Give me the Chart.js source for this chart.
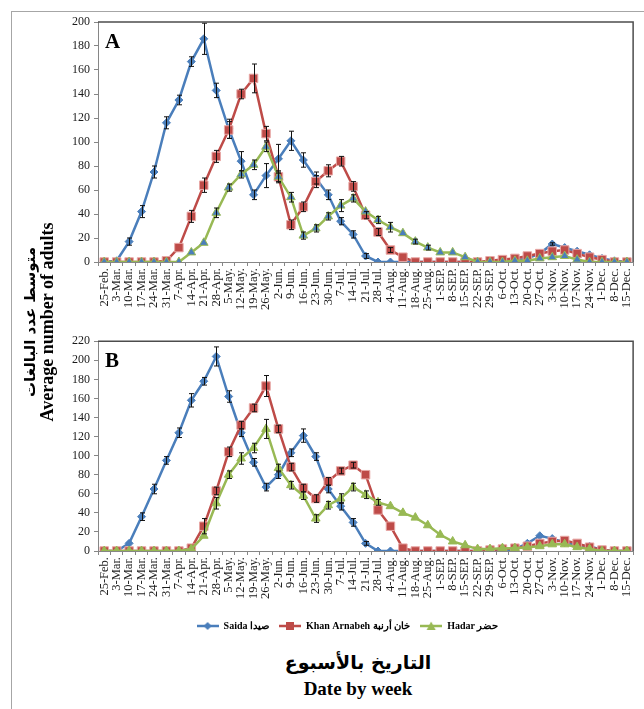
<!DOCTYPE html>
<html><head><meta charset="utf-8">
<script src="https://cdn.jsdelivr.net/npm/chart.js@4.4.0/dist/chart.umd.min.js"></script>
<style>
html,body{margin:0;padding:0;background:#fff;width:644px;height:709px;overflow:hidden;position:relative;font-family:"Liberation Serif",serif;}
#frame{position:absolute;left:11px;top:11px;width:700px;height:800px;border:1px solid #a6a6a6;}
#cA{position:absolute;left:0;top:0;}
#cB{position:absolute;left:0;top:330px;}
#ytitle{position:absolute;left:39px;top:322px;width:320px;transform:translate(-50%,-50%) rotate(-90deg);text-align:center;font-weight:bold;font-size:18px;line-height:17px;color:#000;white-space:nowrap;}
#ytitle .ar{font-family:"DejaVu Sans",sans-serif;font-size:15px;}
#xt1{position:absolute;left:158px;width:400px;top:651px;text-align:center;font-family:"DejaVu Sans",sans-serif;font-weight:bold;font-size:19px;}
#xt2{position:absolute;left:158px;width:400px;top:678px;text-align:center;font-family:"Liberation Serif",serif;font-weight:bold;font-size:19px;}
</style></head>
<body>
<div id="frame"></div>
<canvas id="cA" width="644" height="330" style="width:644px;height:330px"></canvas>
<canvas id="cB" width="644" height="312" style="width:644px;height:312px"></canvas>
<div id="ytitle"><div class="ar">متوسط عدد البالغات</div><div>Average number of adults</div></div>
<div id="xt1">التاريخ بالأسبوع</div>
<div id="xt2">Date by week</div>
<script>
const weeks = ['25-Feb.','3-Mar.','10-Mar.','17-Mar.','24-Mar.','31-Mar.','7-Apr.','14-Apr.','21-Apr.','28-Apr.','5-May.','12-May.','19-May.','26-May.','2-Jun.','9-Jun.','16-Jun.','23-Jun.','30-Jun.','7-Jul.','14-Jul.','21-Jul.','28-Jul.','4-Aug.','11-Aug.','18-Aug.','25-Aug.','1-SEP.','8-SEP.','15-SEP.','22-SEP.','29-SEP.','6-Oct.','13-Oct.','20-Oct.','27-Oct.','3-Nov.','10-Nov.','17-Nov.','24-Nov.','1-Dec.','8-Dec.','15-Dec.'];

const seriesNames = ['Saida صيدا','Khan Arnabeh خان أرنبة','Hadar حضر'];

// Panel A
const saidaA = [0,1,17,42,75,116,135,167,186,143, 111,84,56,72,86,101,85,70,56,34, 23,5,0,0,0,0,0,0,0,0, 0,0,0,1,3,7,15,12,9,6, 3,1,0];
const khanA  = [0,0,0,0,0,1,12,38,64,88, 110,140,153,107,71,31,46,67,76,84, 63,39,25,10,4,0,0,0,0,0, 0,1,2,3,5,7,9,10,7,4, 2,0,0];
const hadarA = [0,0,0,0,0,0,0,8,16,41, 62,73,81,96,71,54,22,28,38,47, 53,42,35,29,24,17,12,8,8,4, 0,0,0,1,1,3,4,5,2,0, 0,0,0];
const saidaAErr = [0,0,3,5,5,5,4,4,13,6, 8,8,4,10,12,8,6,5,4,3, 3,2,0,0,0,0,0,0,0,0, 0,0,0,0,0,0,1,0,0,0, 0,0,0];
const khanAErr  = [0,0,0,0,0,0,0,5,6,5, 7,4,12,6,5,4,4,5,5,4, 4,3,3,2,0,0,0,0,0,0, 0,0,0,0,0,0,0,0,0,0, 0,0,0];
const hadarAErr = [0,0,0,0,0,0,0,0,0,4, 3,3,4,4,4,4,3,3,3,5, 3,0,3,4,0,2,2,0,0,0, 0,0,0,0,0,0,0,0,0,0, 0,0,0];

// Panel B
const saidaB = [0,0,8,36,65,95,124,158,178,204, 162,124,93,67,80,103,121,99,65,47, 30,8,0,0,0,0,0,0,0,0, 0,0,0,2,8,16,13,9,6,5, 1,0,0];
const khanB  = [0,0,0,0,0,0,0,3,26,63, 104,132,150,173,128,88,66,55,73,84, 90,80,43,26,3,0,0,0,0,0, 0,1,2,3,5,8,10,11,8,4, 1,0,0];
const hadarB = [0,0,0,0,0,0,0,2,16,50, 80,97,108,128,87,69,58,34,48,55, 67,59,51,47,40,35,27,17,10,6, 2,2,3,3,4,5,7,7,4,2, 0,0,0];
const saidaBErr = [0,0,0,4,5,4,5,7,4,10, 6,4,4,4,4,4,7,4,4,4, 4,2,0,0,0,0,0,0,0,0, 0,0,0,0,0,0,0,0,0,0, 0,0,0];
const khanBErr  = [0,0,0,0,0,0,0,0,8,4, 5,4,4,11,4,4,4,4,4,3, 3,0,0,0,0,0,0,0,0,0, 0,0,0,0,0,0,0,0,0,0, 0,0,0];
const hadarBErr = [0,0,0,0,0,0,0,0,0,6, 4,6,5,10,4,4,4,4,4,5, 4,4,3,0,0,0,0,0,0,0, 0,0,0,0,0,0,0,0,0,0, 0,0,0];

const BLUE = '#4A7EBB', RED = '#BE4B48', GREEN = '#98B954';
const FONT = 'Liberation Serif';

const deco = {
  id: 'deco',
  afterDatasetsDraw(chart, args, opts) {
    const ctx = chart.ctx, xs = chart.scales.x, ys = chart.scales.y;
    ctx.save();
    ctx.strokeStyle = '#111';
    ctx.lineWidth = 1;
    chart.data.datasets.forEach(ds => {
      if (!ds.err) return;
      ds.err.forEach((e, j) => {
        if (!e) return;
        const x = Math.round(xs.getPixelForValue(j)) + 0.5;
        const yt = ys.getPixelForValue(ds.data[j] + e);
        const yb = ys.getPixelForValue(Math.max(0, ds.data[j] - e));
        ctx.beginPath();
        ctx.moveTo(x, yt); ctx.lineTo(x, yb);
        ctx.moveTo(x - 2.5, yt); ctx.lineTo(x + 2.5, yt);
        ctx.moveTo(x - 2.5, yb); ctx.lineTo(x + 2.5, yb);
        ctx.stroke();
      });
    });
    ctx.restore();
  },
  afterDraw(chart, args, opts) {
    const ctx = chart.ctx, a = chart.chartArea;
    ctx.save();
    ctx.strokeStyle = '#4d4d4d';
    ctx.lineWidth = 1.5;
    ctx.beginPath();
    ctx.moveTo(a.left, a.top); ctx.lineTo(a.right, a.top); ctx.lineTo(a.right, a.bottom);
    ctx.stroke();
    ctx.fillStyle = '#000';
    ctx.font = 'bold 21px "' + FONT + '"';
    ctx.textBaseline = 'top';
    ctx.fillText(opts.letter, a.left + 7, a.top + 10);
    ctx.restore();
  }
};

function legendIcon(color, style, fill) {
  const c = document.createElement('canvas');
  c.width = 22; c.height = 12;
  const g = c.getContext('2d');
  g.strokeStyle = color; g.lineWidth = 2.5;
  g.beginPath(); g.moveTo(0, 6); g.lineTo(22, 6); g.stroke();
  g.fillStyle = fill;
  g.beginPath();
  if (style === 'rectRot') { g.moveTo(11, 2); g.lineTo(15, 6); g.lineTo(11, 10); g.lineTo(7, 6); g.closePath(); }
  else if (style === 'rect') { g.rect(7, 2, 8, 8); }
  else { g.moveTo(11, 1.5); g.lineTo(15.5, 10); g.lineTo(6.5, 10); g.closePath(); }
  g.fill();
  return c;
}

function makeDatasets(s, k, h, se, ke, he, triFill) {
  return [
    { label: seriesNames[0], data: s, err: se, borderColor: BLUE, backgroundColor: BLUE, borderWidth: 2.5,
      pointStyle: 'rectRot', pointRadius: 4, pointBackgroundColor: BLUE, pointBorderColor: BLUE, pointBorderWidth: 1, tension: 0, order: 3 },
    { label: seriesNames[1], data: k, err: ke, borderColor: RED, backgroundColor: RED, borderWidth: 2.5,
      pointStyle: 'rect', pointRadius: 6, pointBackgroundColor: RED, pointBorderColor: '#E8A8A6', pointBorderWidth: 1, tension: 0, order: 2 },
    { label: seriesNames[2], data: h, err: he, borderColor: GREEN, backgroundColor: GREEN, borderWidth: 2.5,
      pointStyle: 'triangle', pointRadius: 5, pointBackgroundColor: triFill, pointBorderColor: GREEN, pointBorderWidth: 1, tension: 0, order: 1 }
  ];
}

function makeOptions(max, letter, pad, xHeight, yWidth, showLegend) {
  return {
    responsive: false,
    animation: false,
    layout: { padding: pad },
    plugins: {
      legend: {
        display: showLegend,
        position: 'bottom',
        labels: {
          usePointStyle: true,
          pointStyleWidth: 22,
          padding: 10,
          color: '#000',
          font: { family: FONT, size: 10, weight: 'bold' },
          generateLabels: (chart) => [
            { text: seriesNames[0], pointStyle: legendIcon(BLUE, 'rectRot', BLUE), fillStyle: BLUE, strokeStyle: BLUE, lineWidth: 0, datasetIndex: 0, fontColor: '#000' },
            { text: seriesNames[1], pointStyle: legendIcon(RED, 'rect', RED), fillStyle: RED, strokeStyle: RED, lineWidth: 0, datasetIndex: 1, fontColor: '#000' },
            { text: seriesNames[2], pointStyle: legendIcon(GREEN, 'tri', GREEN), fillStyle: GREEN, strokeStyle: GREEN, lineWidth: 0, datasetIndex: 2, fontColor: '#000' }
          ]
        }
      },
      tooltip: { enabled: false },
      deco: { letter }
    },
    scales: {
      x: {
        type: 'category',
        offset: true,
        grid: { display: true, drawOnChartArea: false, drawTicks: true, tickLength: 4, color: '#868686', offset: true },
        border: { color: '#868686', width: 1 },
        ticks: { autoSkip: false, maxRotation: 90, minRotation: 90, padding: 2, color: '#1a1a1a', font: { family: FONT, size: 12.5 } },
        afterFit: (s) => { s.height = xHeight; }
      },
      y: {
        min: 0, max: max,
        grid: { display: true, drawOnChartArea: false, drawTicks: true, tickLength: 4, color: '#868686' },
        border: { color: '#868686', width: 1 },
        ticks: { stepSize: 20, padding: 4, color: '#1a1a1a', font: { family: FONT, size: 12 } },
        afterFit: (s) => { s.width = yWidth; }
      }
    }
  };
}

new Chart(document.getElementById('cA'), {
  type: 'line',
  data: { labels: weeks, datasets: makeDatasets(saidaA, khanA, hadarA, saidaAErr, khanAErr, hadarAErr, BLUE) },
  options: makeOptions(200, 'A', { left: 60, top: 22, right: 9, bottom: 0 }, 68, 38, false),
  plugins: [deco]
});

new Chart(document.getElementById('cB'), {
  type: 'line',
  data: { labels: weeks, datasets: makeDatasets(saidaB, khanB, hadarB, saidaBErr, khanBErr, hadarBErr, GREEN) },
  options: makeOptions(220, 'B', { left: 60, top: 7, right: 9, bottom: 1 }, 60, 38, true),
  plugins: [deco]
});
</script>
</body></html>
